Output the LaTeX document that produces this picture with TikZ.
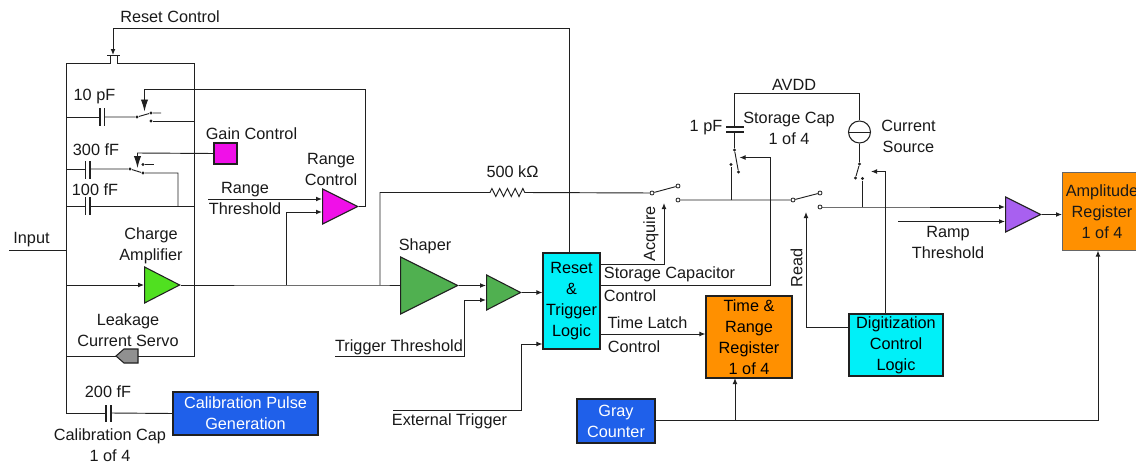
\documentclass[tikz,border=0pt]{standalone}
\usepackage{fontspec}
\setmainfont{Liberation Sans}
\usetikzlibrary{arrows.meta,shapes.geometric,decorations.pathmorphing}
\definecolor{cMag}{HTML}{F010E8}
\definecolor{cGreen}{HTML}{50E020}
\definecolor{cShape}{HTML}{50B050}
\definecolor{cPurp}{HTML}{A860F0}
\definecolor{cGray}{HTML}{909090}
\definecolor{cOrange}{HTML}{FF9000}
\definecolor{cCyan}{HTML}{00F0F8}
\definecolor{cBlue}{HTML}{1F60EA}
\definecolor{cLine}{HTML}{202020}
\tikzset{
 x=0.75pt,y=-0.75pt,
 wire/.style={draw=cLine,line width=0.7pt},
 arr/.style={wire,-{Latex[length=4.5pt,width=3.6pt]}},
 bigarr/.style={wire,-{Latex[length=9pt,width=5.5pt]}},
 plate/.style={draw=cLine,line width=0.8pt},
 lbl/.style={inner sep=0pt,align=center,font=\fontsize{12.2}{15.75}\selectfont,text=black!90},
 box/.style={draw=cLine,line width=0.8pt,inner sep=0pt,align=center,font=\fontsize{12.2}{15.75}\selectfont},
 amp/.style={draw=cLine,line width=0.8pt,isosceles triangle,isosceles triangle stretches,inner sep=0pt,anchor=apex},
 opencontact/.style={circle,draw=cLine,fill=white,line width=0.6pt,minimum size=3pt,inner sep=0pt},
 dotcontact/.style={circle,fill=cLine,minimum size=2.6pt,inner sep=0pt},
}
\begin{document}
\begin{tikzpicture}
\useasboundingbox (0,0) rectangle (1136,464);
% --- boxes
\node[box,fill=cBlue,text=white,minimum width=108.75pt,minimum height=32.25pt] (calib) at (245.5,413.5) {Calibration Pulse\\Generation};
\node[box,fill=cMag,minimum width=17.25pt,minimum height=15.75pt] (gain) at (225.5,153.5) {};
\node[box,fill=cCyan,minimum width=42.75pt,minimum height=72pt] (reset) at (571.5,301) {Reset\\\&\\Trigger\\Logic};
\node[box,fill=cOrange,minimum width=64.5pt,minimum height=61.5pt] (timereg) at (749,337) {Time \&\\Range\\Register\\1 of 4};
\node[box,fill=cBlue,text=white,minimum width=58.5pt,minimum height=33pt] (gray) at (616,421) {Gray\\Counter};
\node[box,fill=cCyan,minimum width=70.5pt,minimum height=46.5pt] (digi) at (896,345) {Digitization\\Control\\Logic};
\node[box,draw=black!60,fill=cOrange,minimum width=60pt,minimum height=58.5pt,anchor=north west] (ampreg) at (1062,172) {};
\node[lbl] (amptxt) at (1102,212) {Amplitude\\Register\\1 of 4};
% --- amplifiers
\node[amp,fill=cGreen,minimum width=27pt,minimum height=26.25pt] (qamp) at (181,285) {};
\node[amp,fill=cMag,minimum width=26.25pt,minimum height=26.25pt] (range) at (359,206.5) {};
\node[amp,fill=cShape,minimum width=42.75pt,minimum height=42.75pt] (shaper) at (459,285.5) {};
\node[amp,fill=cShape,minimum width=26.25pt,minimum height=25.5pt] (disc) at (522,292.5) {};
\node[amp,fill=cPurp,minimum width=26.25pt,minimum height=26.25pt] (comp) at (1042,214.5) {};
% --- coordinates
\coordinate (tl) at (66,63); \coordinate (tr) at (194,63);
\coordinate (inL) at (9,250); \coordinate (inB) at (66,250);
\coordinate (botL) at (66,413);
\coordinate (a10) at (66,117); \coordinate (a300) at (66,169); \coordinate (a100) at (66,206);
\coordinate (aQ) at (66,285); \coordinate (aS) at (66,356); \coordinate (rS) at (194,356);
\coordinate (b10) at (194,121); \coordinate (b100) at (194,206);
% --- feedback box
\draw[wire] (tl) -- (110,63) -- (110,55);
\draw[wire] (117,55) -- (117,63) -- (tr) -- (rS) -- (aS);
\draw[wire] (107,55) -- (120,55);
\draw[wire] (tl) -- (botL);
\draw[wire] (inL) -- (inB);
\draw[arr] (reset.north -| 569,0) -- (569,28) -- (113,28) -- (113,55);
% 10 pF
\node[dotcontact] (s10a) at (137,117) {};
\node[dotcontact] (s10b) at (151,113) {};
\node[dotcontact] (s10c) at (151,121) {};
\draw[wire] (a10) -- (100,117);
\draw[wire] (104,117) -- (s10a) -- (s10b) -- (161,113);
\draw[wire] (s10c) -- (b10);
\draw[plate] (100,108) -- (100,126) (104.5,108) -- (104.5,126);
% 300 fF
\node[dotcontact] (s3a) at (130,169) {};
\node[dotcontact] (s3b) at (143,164.5) {};
\node[dotcontact] (s3c) at (143,173) {};
\draw[wire] (a300) -- (86,169);
\draw[wire] (90,169) -- (s3a) -- (s3c) -- (178,173) -- (178,206);
\draw[wire] (s3b) -- (154,164.5);
\draw[plate] (85.5,161) -- (85.5,178.5) (90,161) -- (90,178.5);
% 100 fF
\draw[wire] (a100) -- (85.5,206); \draw[wire] (90,206) -- (b100);
\draw[plate] (85.5,197) -- (85.5,215) (90,197) -- (90,215);
% control arrows into switches
\draw[bigarr] (range.apex) -- (365,206.5) -- (365,89.5) -- (144.5,89.5) -- (144.5,111.5);
\draw[bigarr] (gain.west) -- (137.5,153) -- (137.5,168);
% charge amp
\draw[arr] (aQ) -- (qamp.left corner |- aQ);
\path (qamp.apex) coordinate (qout);
\coordinate (jRange) at (286,285); \coordinate (jRes) at (380,285);
\draw[wire] (qout) -- (jRange) -- (jRes) -- (shaper.west |- jRes);
\draw[arr] (jRange) -- (286,212) -- (322,212);
\coordinate (rangeL) at (208,199);
\draw[arr] (rangeL) -- (322,199);
% leakage servo
\draw[draw=cLine,line width=0.8pt,fill=cGray] (116,356) -- (124,349) -- (138,349) -- (138,363) -- (124,363) -- cycle;
% calibration cap
\draw[wire] (botL) -- (106,413); \draw[wire] (111,413) -- (calib.west);
\draw[plate] (106,405) -- (106,422) (111,405) -- (111,422);
% shaper and discriminator
\draw[arr] (shaper.apex) -- (486,285.5);
\coordinate (trigL) at (335,356);
\draw[arr] (trigL) -- (464,356) -- (464,300) -- (486,300);
\draw[arr] (disc.apex) -- (reset.west |- disc.apex);
\coordinate (extL) at (393,410);
\draw[arr] (extL) -- (521,410) -- (521,344) -- (reset.west |- 0,344);
% acquire switch
\node[opencontact] (acqA) at (652,193) {};
\node[opencontact] (acqB) at (678,186) {};
\node[opencontact] (acqC) at (678,200) {};
\draw[wire] (jRes) -- (380,192.5) -- (490,192.5)
  decorate[decoration={zigzag,segment length=5.8pt,amplitude=3pt}]{ -- (525,192.5)} -- (acqA);
\draw[wire] (acqA) -- (acqB);
\draw[arr] (reset.east |- 0,264) -- (664,264) -- (664,203);
% read switch
\node[opencontact] (rdA) at (793,200) {};
\node[opencontact] (rdB) at (820,193) {};
\node[opencontact] (rdC) at (820,207) {};
\coordinate (jCap) at (731,200);
\draw[wire] (acqC) -- (jCap) -- (rdA) -- (rdB);
% storage cap and switch
\node[dotcontact] (capA) at (734.5,150) {};
\node[dotcontact] (capB) at (738.5,172) {};
\node[dotcontact] (capC) at (731,164.5) {};
\draw[wire] (jCap) -- (capC);
\draw[wire] (capA) -- (capB);
\coordinate (avL) at (734.5,93); \coordinate (avR) at (859.5,93);
\draw[wire] (capA) -- (734.5,132.5);
\draw[wire] (734.5,127) -- (avL) -- (avR);
\draw[plate] (726,127) -- (744,127) (726,132) -- (744,132);
\draw[arr] (reset.east |- 0,285) -- (770,285) -- (770,157.5) -- (739.5,157.5);
% current source
\node[circle,draw=cLine,line width=0.8pt,fill=white,minimum size=16.5pt,inner sep=0pt] (isrc) at (859.5,132) {};
\draw[wire] (isrc.west) -- (isrc.east);
\draw[wire] (avR) -- (isrc.north);
\node[dotcontact] (srcA) at (859.5,164) {};
\node[dotcontact] (srcB) at (855.5,178) {};
\node[dotcontact] (srcC) at (862.5,178.5) {};
\draw[wire] (isrc.south) -- (srcA) -- (srcB);
\coordinate (jSrc) at (862.5,207);
\draw[wire] (srcC) -- (jSrc);
% to comparator
\draw[arr] (rdC) -- (jSrc) -- (1005,207);
\coordinate (rampL) at (898,221.5);
\draw[arr] (rampL) -- (1005,221.5);
\draw[arr] (comp.apex) -- (ampreg.west |- comp.apex);
% digitization
\draw[arr] (digi.west |- 0,327) -- (806,327) -- (806,212);
\draw[arr] (digi.north -| 885,0) -- (885,171.5) -- (871,171.5);
% time latch
\draw[arr] (reset.east |- 0,334) -- (timereg.west |- 0,334);
% gray counter
\coordinate (jGray) at (735,420);
\draw[arr] (gray.east |- jGray) -- (1098,420) -- (1098,250.5);
\draw[arr] (jGray) -- (735,378);
% --- labels
\node[lbl] (t1) at (170,17) {Reset Control};
\node[lbl] (t2) at (94.5,97) {10 pF};
\node[lbl] (t3) at (96,150) {300 fF};
\node[lbl] (t4) at (95,189.5) {100 fF};
\node[lbl] (t5) at (251.5,133.5) {Gain Control};
\node[lbl] (t6) at (331,169) {Range\\Control};
\node[lbl] (t7) at (245,198) {Range\\Threshold};
\node[lbl] (t8) at (31.5,239.5) {Input};
\node[lbl] (t9) at (151,246) {Charge\\Amplifier};
\node[lbl] (t10) at (128,330) {Leakage\\Current Servo};
\node[lbl] (t11) at (108,391.5) {200 fF};
\node[lbl] (t12) at (110,445) {Calibration Cap\\1 of 4};
\node[lbl] (t13) at (425,246.5) {Shaper};
\node[lbl] (t14) at (399,347.5) {Trigger Threshold};
\node[lbl] (t15) at (449.5,421) {External Trigger};
\node[lbl] (t16) at (512.5,171.5) {500 kΩ};
\node[lbl,rotate=90] (t17) at (651,234) {Acquire};
\node[lbl] (t18) at (669.5,274) {Storage Capacitor};
\node[lbl] (t19) at (630,295.5) {Control};
\node[lbl] (t20) at (647.5,323) {Time Latch};
\node[lbl] (t21) at (634,346.5) {Control};
\node[lbl] (t22) at (794,85) {AVDD};
\node[lbl] (t23) at (706,128) {1 pF};
\node[lbl] (t24) at (789,128.5) {Storage Cap\\1 of 4};
\node[lbl] (t25) at (908.5,136) {Current\\Source};
\node[lbl,rotate=90] (t26) at (796.5,268) {Read};
\node[lbl] (t27) at (948,242) {Ramp\\Threshold};
\end{tikzpicture}
\end{document}
